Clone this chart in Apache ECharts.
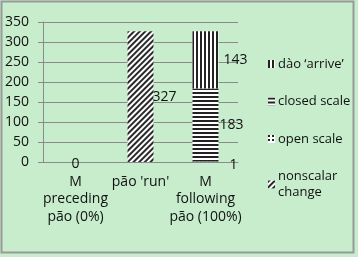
<!DOCTYPE html>
<html>
<head>
    <meta charset='utf-8' />
    <title>pao chart</title>
</head>
<body style='margin:0;width:358px;height:257px;'>
<div id='bar' style='width:358px;height:257px;background:#c7edcc;'></div>

<script src="https://cdn.jsdelivr.net/npm/echarts@6/dist/echarts.min.js"></script>

<script type='text/javascript'>
    // categories and series (stack order: bottom first)
    var categories = ['M\npreceding\npão (0%)', "pão 'run'", 'M\nfollowing\npão (100%)'];
    var nonscalar = [0, 327, null];
    var openScale = [null, null, 1];
    var closedScale = [null, null, 183];
    var daoArrive = [null, null, 143];
    var yTicks = [0, 350, 50]; // min, max, step

    var lineCol = '#8a8a8a';
    var fontFam = '"Open Sans", sans-serif';

    // label offsets
    function mkData(vals, lab) {
        return vals.map(function (v, i) {
            if (v === null) return null;
            var l = lab[i];
            return l ? { value: v, label: l } : v;
        });
    }

    var option = {
        animation: false,
        textStyle: { fontFamily: fontFam },
        graphic: [{
            type: 'rect',
            shape: { x: 1.5, y: 1.5, width: 352, height: 251 },
            style: { fill: null, stroke: '#9a9a9a', lineWidth: 2 }
        }],
        grid: { left: 43, top: 22, right: 120, bottom: 95 },
        legend: {
            orient: 'vertical',
            left: 263,
            top: 51,
            itemWidth: 7,
            itemHeight: 8,
            itemGap: 21.5,
            icon: 'rect',
            data: ['dào ‘arrive’', 'closed scale', 'open scale', 'nonscalar change'],
            formatter: function (n) { return n === 'nonscalar change' ? 'nonscalar\nchange' : n; },
            textStyle: { fontSize: 13, color: '#111', fontFamily: fontFam, lineHeight: 16, padding: [0, 0, 0, -2] }
        },
        xAxis: {
            type: 'category',
            data: categories,
            axisLine: { lineStyle: { color: lineCol } },
            axisTick: { lineStyle: { color: lineCol }, length: 5 },
            axisLabel: { fontSize: 14, color: '#111', lineHeight: 17.5, margin: 11, interval: 0 }
        },
        yAxis: {
            type: 'value',
            min: yTicks[0],
            max: yTicks[1],
            interval: yTicks[2],
            axisLine: { show: true, lineStyle: { color: lineCol } },
            axisTick: { show: true, length: 5, lineStyle: { color: lineCol } },
            splitLine: { lineStyle: { color: lineCol } },
            axisLabel: { fontSize: 14, color: '#111', margin: 14 }
        },
        series: [
            {
                name: 'nonscalar change',
                type: 'bar',
                stack: 's',
                barWidth: '40%',
                data: mkData(nonscalar, [
                    { show: true, position: 'inside', offset: [0, 2] },
                    { show: true, position: 'right', offset: [-6, 0] },
                    null
                ]),
                itemStyle: {
                    color: '#ffffff',
                    decal: { symbol: 'rect', symbolSize: 1, rotation: -Math.PI / 4, color: '#2a2a2a', dashArrayX: [10, 0], dashArrayY: [1.4, 1.4] }
                }
            },
            {
                name: 'open scale',
                type: 'bar',
                stack: 's',
                data: mkData(openScale, [null, null, { show: true, position: 'right', offset: [6, 3] }]),
                itemStyle: {
                    color: '#ffffff',
                    decal: { symbol: 'rect', symbolSize: 1, color: '#222', dashArrayX: [1.5, 1.5], dashArrayY: [1.5, 1.5] }
                }
            },
            {
                name: 'closed scale',
                type: 'bar',
                stack: 's',
                data: mkData(closedScale, [null, null, { show: true, position: 'right', offset: [-4, 0] }]),
                itemStyle: {
                    color: '#ffffff',
                    decal: { symbol: 'rect', symbolSize: 1, color: '#222', dashArrayX: [10, 0], dashArrayY: [1.3, 1.5] }
                }
            },
            {
                name: 'dào ‘arrive’',
                type: 'bar',
                stack: 's',
                data: mkData(daoArrive, [null, null, { show: true, position: 'right', offset: [0, 0] }]),
                itemStyle: {
                    color: '#ffffff',
                    decal: { symbol: 'rect', symbolSize: 1, color: '#222', dashArrayX: [1.2, 1.6], dashArrayY: [10, 0] }
                }
            }
        ]
    };

    // shared label font
    option.series.forEach(function (s) {
        s.label = { fontSize: 14, color: '#111', fontFamily: fontFam };
    });

    var myChart = echarts.init(document.getElementById('bar'));
    myChart.setOption(option);
</script>
</body>
</html>
